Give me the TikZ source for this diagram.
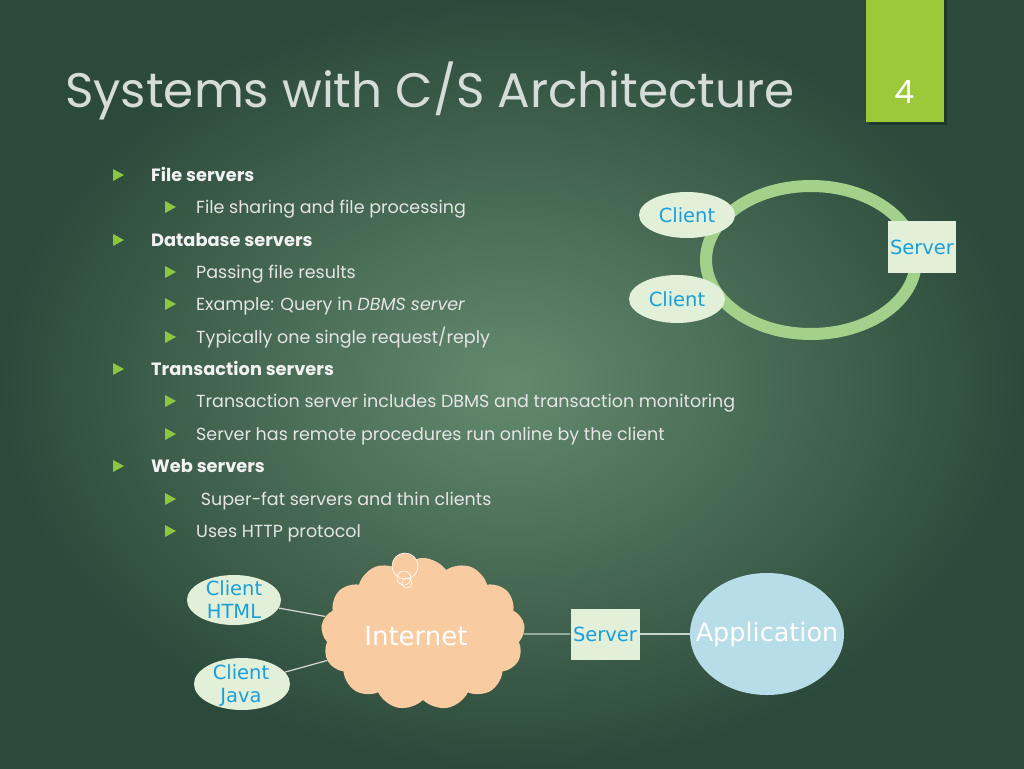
\documentclass[tikz,border=0pt]{standalone}
\usepackage{fontspec}
\setmainfont{Poppins}
\newfontfamily\labelfont{DejaVu Sans}
\usetikzlibrary{shapes.geometric,shapes.symbols}
\definecolor{slidedark}{HTML}{2C4A3B}
\definecolor{slidelight}{HTML}{638A6D}
\definecolor{titlegray}{HTML}{D6DCD8}
\definecolor{pagegreen}{HTML}{9BC93A}
\definecolor{bulletgreen}{HTML}{8DC63F}
\definecolor{ringgreen}{HTML}{A3D08A}
\definecolor{palegreen}{HTML}{E2EFD9}
\definecolor{labelblue}{HTML}{1A9FDB}
\definecolor{peach}{HTML}{F9CBA0}
\definecolor{appblue}{HTML}{B7DDE8}
\definecolor{wiregray}{HTML}{C9D3CC}
\tikzstyle{client} = [ellipse, fill=palegreen, inner sep=0pt]
\tikzstyle{clienttext} = [text=labelblue, font=\labelfont\fontsize{19.5}{23}\selectfont, inner sep=0pt, align=center]
\tikzstyle{serverbox} = [rectangle, fill=palegreen, text=labelblue, font=\labelfont\fontsize{19.5}{22}\selectfont, inner sep=0pt]
\tikzstyle{itemtext} = [anchor=base west, inner sep=0pt]

\begin{document}
\begin{tikzpicture}[x=1pt,y=-1pt]
	\tikzset{wire/.style={draw=wiregray, line width=1.2pt}}
	\shade[inner color=slidelight, outer color=slidedark] (0,0) rectangle (1024,768);
	\useasboundingbox (0,0) rectangle (1024,768);
	\fill[black, opacity=0.25] (869,0) rectangle (947,125);
	\fill[pagegreen] (866,0) rectangle (944,122);
	\node[text=white, font=\fontsize{32}{36}\selectfont] (pagenum) at (905,92) {4};
	\node[itemtext, text=titlegray, font=\fontsize{48.5}{54}\selectfont] (title) at (65,107) {Systems with C/S Architecture};
	\foreach \lvl/\ypos/\txt in {
		1/175/File servers,
		2/207/File sharing and file processing,
		1/240/Database servers,
		2/272/Passing file results,
		2/304/{Example: Query in \textit{DBMS server}},
		2/337/{Typically one single request/reply},
		1/369/Transaction servers,
		2/401/Transaction server includes DBMS and transaction monitoring,
		2/434/Server has remote procedures run online by the client,
		1/466/Web servers,
		2/499/{\ Super-fat servers and thin clients},
		2/531/Uses HTTP protocol} {
		\pgfmathsetmacro\bx{\lvl==1 ? 118 : 170}
		\pgfmathsetmacro\tx{\lvl==1 ? 151 : 196}
		\fill[bulletgreen] (\bx-5,\ypos-6) -- (\bx+6,\ypos) -- (\bx-5,\ypos+6) -- cycle;
		\ifnum\lvl=1
			\node[itemtext, text=white!95!black, font=\bfseries\fontsize{17.8}{20}\selectfont] (item\ypos) at (\tx,\ypos+6) {\txt};
		\else
			\node[itemtext, text=white!90!black, font=\fontsize{17.5}{20}\selectfont] (item\ypos) at (\tx,\ypos+6) {\txt};
		\fi
	}
	\node[ellipse, draw=ringgreen, line width=12pt, minimum width=210pt, minimum height=148pt] (ring) at (811,260) {};
	\node[client, minimum width=96pt, minimum height=46pt] (topclient) at (687,215) {};
	\node[clienttext] (topclienttext) at (topclient) {Client};
	\node[client, minimum width=96pt, minimum height=48pt] (lowclient) at (677,299) {};
	\node[clienttext] (lowclienttext) at (lowclient) {Client};
	\node[serverbox, minimum width=68pt, minimum height=52pt] (ringserver) at (922,247) {Server};
	\node[cloud, cloud puffs=13, cloud puff arc=110, aspect=1.35, fill=peach, minimum width=204pt, minimum height=152pt] (internet) at (423,634) {};
	\node[text=white, font=\labelfont\fontsize{26}{30}\selectfont] (internettext) at (416,636) {Internet};
	\draw[white, line width=0.6pt, fill=peach] (405,566) circle (13pt);
	\draw[white, line width=0.6pt] (404,578) circle (7pt) (407,583) circle (5pt);
	\node[client, minimum width=94pt, minimum height=50pt] (htmlclient) at (234,600) {};
	\node[clienttext] (htmlclienttext) at (234,600) {Client\\HTML};
	\node[client, minimum width=96pt, minimum height=52pt] (javaclient) at (242,684) {};
	\node[clienttext] (javaclienttext) at (241,686) {Client\\Java};
	\node[serverbox, minimum width=69pt, minimum height=51pt] (webserver) at (605,634) {Server};
	\node[ellipse, fill=appblue, inner sep=0pt, minimum width=154pt, minimum height=122pt] (app) at (767,634) {};
	\node[text=white, font=\labelfont\fontsize{25.5}{30}\selectfont] (apptext) at (app) {Application};
	\draw[white!85!black, line width=1.2pt] (htmlclient) -- (internet);
	\draw[white!85!black, line width=1.2pt] (javaclient) -- (internet);
	\draw[wire] (internet.east) -- (webserver.west);
	\draw[wire] (webserver.east) -- (app.west);
\end{tikzpicture}
\end{document}
